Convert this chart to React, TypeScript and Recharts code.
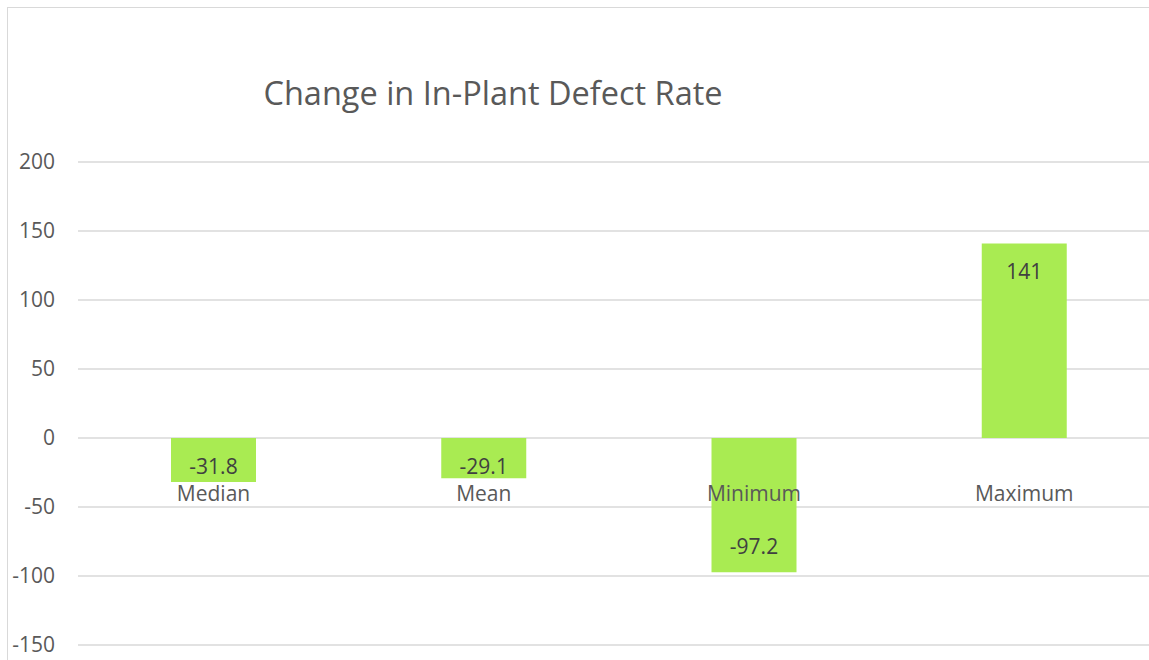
import { BarChart, Bar, XAxis, YAxis, CartesianGrid, LabelList } from "recharts";

const categories = ["Median", "Mean", "Minimum", "Maximum"];
const changes = [-31.8, -29.1, -97.2, 141];
const yTicks = [-150, -100, -50, 0, 50, 100, 150, 200];

const data = categories.map((name, i) => ({ name, value: changes[i] }));

const FONT = "'Open Sans', 'Noto Sans', sans-serif";
const GRID = "#d9d9d9";

// value label sits near the bar end, but never closer than 28px to the zero line
const ValueLabel = (props: any) => {
  const { x, y, width, height, value } = props;
  const end = y;
  const base = y + height;
  const cx = x + width / 2;
  let cy;
  if (value >= 0) cy = Math.min(end + 28, base - 28);
  else cy = Math.max(end - 26, base + 28);
  return (
    <text x={cx} y={cy} textAnchor="middle" dominantBaseline="central" fill="#404040" fontSize={21} fontFamily={FONT}>
      {value}
    </text>
  );
};

// category names drawn just under the zero line, like Excel's axis labels
const CategoryLabel = (props: any) => {
  const { x, y, width, height, value } = props;
  const base = y + height;
  return (
    <text x={x + width / 2} y={base + 55} textAnchor="middle" dominantBaseline="central" fill="#595959" fontSize={21} fontFamily={FONT}>
      {value}
    </text>
  );
};

export default function App() {
  return (
    <div
      style={{
        position: "fixed",
        left: 7,
        top: 7,
        width: 1170,
        height: 670,
        overflow: "hidden",
        borderLeft: `1.5px solid ${GRID}`,
        borderTop: `1.5px solid ${GRID}`,
        background: "#fff",
      }}
    >
      <div
        style={{
          position: "absolute",
          left: 0,
          width: 970,
          top: 65,
          textAlign: "center",
          fontFamily: FONT,
          fontSize: 32.5,
          color: "#595959",
          lineHeight: "40px",
        }}
      >
        Change in In-Plant Defect Rate
      </div>
      <BarChart
        width={1160}
        height={660}
        data={data}
        margin={{ top: 154, right: 9, bottom: 23, left: 0 }}
        style={{ position: "absolute", left: 0, top: 0 }}
      >
        <CartesianGrid vertical={false} stroke={GRID} strokeWidth={1.3} />
        <XAxis dataKey="name" hide />
        <YAxis
          domain={[-150, 200]}
          ticks={yTicks}
          width={70}
          axisLine={false}
          tickLine={false}
          tickSize={0}
          tickMargin={23}
          interval={0}
          tick={{ fill: "#595959", fontSize: 21, fontFamily: FONT }}
        />
        <Bar dataKey="value" fill="#a9eb52" barSize={85} isAnimationActive={false}>
          <LabelList dataKey="value" content={ValueLabel} />
          <LabelList dataKey="name" content={CategoryLabel} />
        </Bar>
      </BarChart>
    </div>
  );
}
